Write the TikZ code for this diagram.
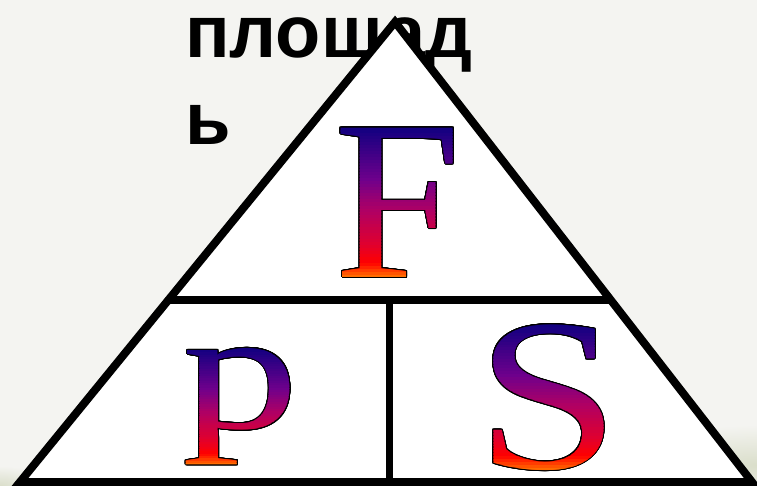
\documentclass[tikz,border=0pt]{standalone}
\usepackage{fontspec}
\usepackage{graphicx}
\usepackage{contour}
\usetikzlibrary{calc}
\newfontfamily\labelfont{Liberation Sans}
\newfontfamily\letterfont{Liberation Serif}

\definecolor{slidegray}{RGB}{244,244,241}
\definecolor{slidegreen}{RGB}{218,222,202}
\definecolor{shadenavy}{RGB}{16,0,128}
\definecolor{shadepurple}{RGB}{110,0,140}
\definecolor{shademagenta}{RGB}{175,0,100}
\definecolor{shadecrimson}{RGB}{225,0,45}
\definecolor{shadered}{RGB}{255,0,0}
\definecolor{shadeorange}{RGB}{255,120,0}

\contourlength{1pt}
\contournumber{24}

\newcommand{\letterF}{\letterfont\fontsize{228}{228}\selectfont F}
\newcommand{\letterp}{\scalebox{1.37}[1]{\letterfont\fontsize{170}{170}\selectfont p}}
\newcommand{\letterS}{\scalebox{1.19}[1]{\letterfont\fontsize{217}{217}\selectfont S}}

% colour of a band, #1 = percent from the top of the letter
\newcommand{\setbandcolor}[1]{%
  \ifnum#1<35\relax
    \pgfmathtruncatemacro\bandmix{100*#1/35}%
    \colorlet{bandcol}{shadepurple!\bandmix!shadenavy}%
  \else\ifnum#1<55\relax
    \pgfmathtruncatemacro\bandmix{100*(#1-35)/20}%
    \colorlet{bandcol}{shademagenta!\bandmix!shadepurple}%
  \else\ifnum#1<78\relax
    \pgfmathtruncatemacro\bandmix{100*(#1-55)/23}%
    \colorlet{bandcol}{shadecrimson!\bandmix!shademagenta}%
  \else\ifnum#1<90\relax
    \pgfmathtruncatemacro\bandmix{100*(#1-78)/12}%
    \colorlet{bandcol}{shadered!\bandmix!shadecrimson}%
  \else
    \pgfmathtruncatemacro\bandmix{100*(#1-90)/10}%
    \colorlet{bandcol}{shadeorange!\bandmix!shadered}%
  \fi\fi\fi\fi}

\begin{document}
\begin{tikzpicture}[x=1pt, y=-1pt,
    frame/.style={draw=black, line width=8pt, line join=miter},
    caption/.style={anchor=base west, inner sep=0pt,
                    font=\labelfont\bfseries\fontsize{74}{88}\selectfont},
    glyph/.style={inner sep=0pt, text=black},
]

% slide background
\fill[slidegray] (0,0) rectangle (757,486);
\useasboundingbox (0,0) rectangle (757,486);
\shade[inner color=slidegreen, outer color=slidegray] (757,465) ellipse (140 and 40);
\shade[inner color=slidegreen, outer color=slidegray] (0,486) ellipse (50 and 20);

% word behind the triangle
\node[caption] (word1) at (185,58) {площад};
\node[caption] (word2) at (185,145) {ь};

% triangle
\coordinate (apex) at (395,22);
\coordinate (baseL) at (20,482);
\coordinate (baseR) at (752,482);
\coordinate (midL) at ($(baseL)!0.396!(apex)$);
\coordinate (midR) at ($(baseR)!0.396!(apex)$);
\coordinate (midC) at (389,300);
\coordinate (baseC) at (389,482);

\fill[white] (apex) -- (baseL) -- (baseR) -- cycle;
\draw[frame] (midL) -- (midR);
\draw[frame, line width=7pt] (midC) -- (baseC);
\draw[frame] (apex) -- (baseL) -- (baseR) -- cycle;

% letters: black outline first, then the colour bands
\node[glyph] (F) at (398,203) {\contour{black}{\letterF}};
\node[glyph] (p) at (241,407) {\contour{black}{\letterp}};
\node[glyph] (S) at (548,398) {\contour{black}{\letterS}};

\foreach \lettername in {F,p,S} {
  \foreach \i in {0,...,49} {
    \pgfmathtruncatemacro\bandpct{2*\i+1}
    \pgfmathsetmacro\bandtop{\i/50}
    \pgfmathsetmacro\bandbot{(\i+1.3)/50}
    \ifnum\i=0 \def\bandtop{-0.1}\fi
    \ifnum\i=49 \def\bandbot{1.1}\fi
    \setbandcolor{\bandpct}
    \begin{scope}
      \clip let \p1=(\lettername.north west), \p2=(\lettername.south east) in
        (\x1-12pt, {\y1+(\y2-\y1)*\bandtop}) rectangle (\x2+12pt, {\y1+(\y2-\y1)*\bandbot});
      \node[glyph, text=bandcol] at (\lettername.center) {\csname letter\lettername\endcsname};
    \end{scope}
  }
}

\end{tikzpicture}
\end{document}
